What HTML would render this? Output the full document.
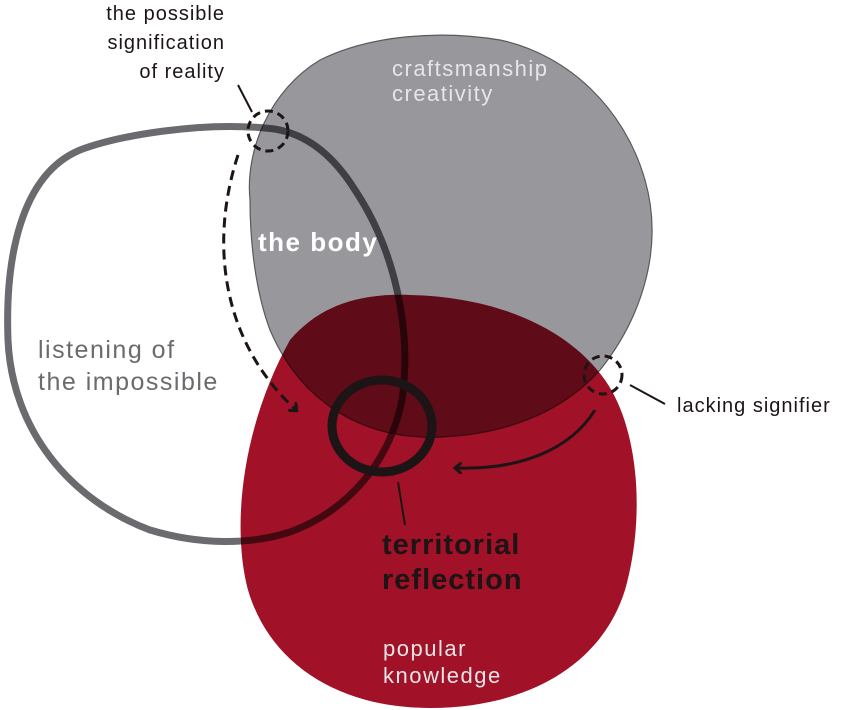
<!DOCTYPE html>
<html><head><meta charset="utf-8"><style>
html,body{margin:0;padding:0;background:#fff;}
svg{display:block}
text{font-family:"Liberation Sans",sans-serif;}
</style></head><body>
<svg width="843" height="710" viewBox="0 0 843 710" xmlns="http://www.w3.org/2000/svg">
<defs>
<marker id="ah" markerWidth="12" markerHeight="12" refX="6" refY="6" orient="auto" markerUnits="userSpaceOnUse"><path d="M0,0 L7,6 L0,12" fill="none" stroke="#1d1416" stroke-width="3"/></marker>
</defs>
<g style="isolation:isolate">
<path d="M290,340 C320,305 360,293 410,295 C500,297 570,330 605,380 C640,430 645,520 625,590 C600,670 520,708 430,708 C340,708 270,665 248,590 C232,530 240,430 290,340 Z" fill="#a11127"/>
<path d="M250,200 C245,150 270,90 320,60 C370,35 440,30 500,40 C570,55 625,110 645,180 C665,250 640,320 600,370 C560,415 500,435 440,437 C360,440 300,400 270,330 C255,290 250,240 250,200 Z" fill="#98979c" stroke="#5a595d" stroke-width="1.2" style="mix-blend-mode:multiply"/>
<path d="M265,128 C200,122 120,135 80,150 C20,175 5,260 8,340 C12,430 70,500 150,530 C200,545 250,545 290,532 C350,510 390,460 402,400 C412,330 395,250 355,190 C330,150 300,130 265,128 Z" fill="none" stroke="#6b6a6e" stroke-width="7" style="mix-blend-mode:multiply"/>
</g>
<ellipse cx="382" cy="426" rx="50" ry="46" fill="none" stroke="#1d1416" stroke-width="9"/>
<circle cx="268" cy="131" r="20" fill="none" stroke="#1d1416" stroke-width="3" stroke-dasharray="8,5"/>
<circle cx="603" cy="375" r="19" fill="none" stroke="#1d1416" stroke-width="3" stroke-dasharray="8,5"/>
<path d="M238,155 C210,240 220,340 296,410" fill="none" stroke="#1d1416" stroke-width="3" stroke-dasharray="10,6" marker-end="url(#ah)"/>
<path d="M595,410 C570,450 520,470 456,468" fill="none" stroke="#1d1416" stroke-width="3" marker-end="url(#ah)"/>
<line x1="238" y1="85" x2="252" y2="112" stroke="#1d1416" stroke-width="2"/>
<line x1="630" y1="385" x2="665" y2="404" stroke="#1d1416" stroke-width="2"/>
<line x1="398" y1="482" x2="405" y2="525" stroke="#1d1416" stroke-width="2"/>
<g font-size="20" fill="#1d1416" letter-spacing="1">
<text x="225" y="20" text-anchor="end">the possible</text>
<text x="225" y="49" text-anchor="end">signification</text>
<text x="225" y="78" text-anchor="end">of reality</text>
<text x="677" y="412">lacking signifier</text>
</g>
<g font-size="22" fill="#e6e6e8" letter-spacing="1.5">
<text x="392" y="76">craftsmanship</text>
<text x="392" y="101">creativity</text>
<text x="383" y="656">popular</text>
<text x="383" y="683">knowledge</text>
</g>
<text x="258" y="251" font-size="26" font-weight="bold" fill="#fff" letter-spacing="1.5">the body</text>
<g font-size="25" fill="#6b6a6e" letter-spacing="1.5">
<text x="38" y="358">listening of</text>
<text x="38" y="390">the impossible</text>
</g>
<g font-size="29" font-weight="bold" fill="#1d1416" letter-spacing="1">
<text x="382" y="554">territorial</text>
<text x="382" y="589">reflection</text>
</g>
</svg>
</body></html>
